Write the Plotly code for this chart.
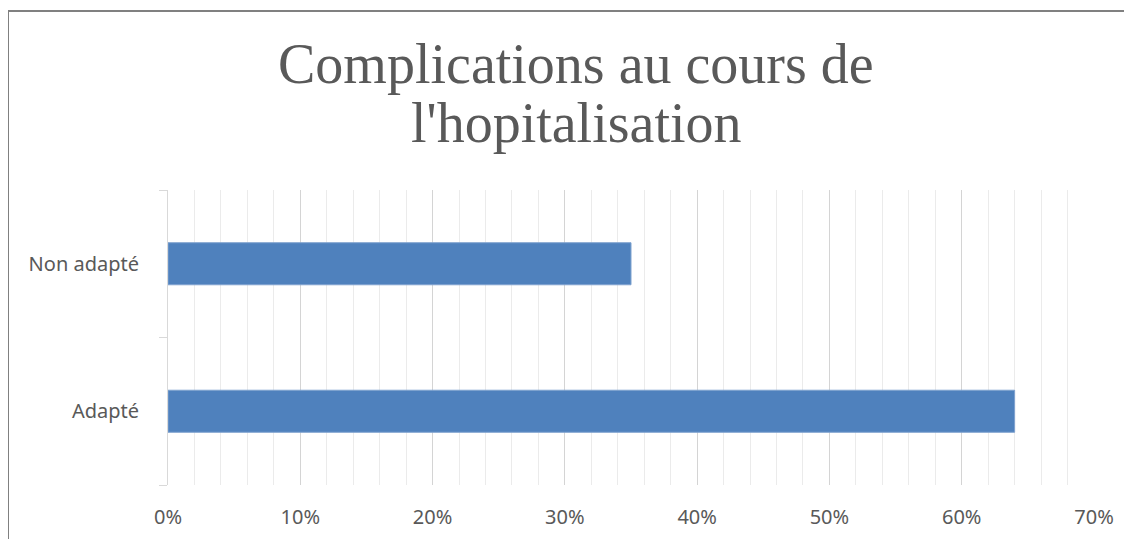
import plotly.graph_objects as go

categories = ["Adapté", "Non adapté"]
values = [0.64, 0.35]
tick_vals = [0, 0.1, 0.2, 0.3, 0.4, 0.5, 0.6, 0.7]
tick_text = ["0%", "10%", "20%", "30%", "40%", "50%", "60%", "70%"]
title_lines = ["Complications au cours de", "l'hopitalisation"]

# page has an 8px body offset; work in figure coordinates
OFF = 8
W, H = 1132, 539
L, T = 168 - OFF, 190 - OFF
R = W - (1094 - OFF)
B = H - (485 - OFF)
pw, ph = W - L - R, H - T - B

def px_x(x):
    return (x - OFF - L) / pw

def px_y(y):
    return (H - B - (y - OFF)) / ph

fig = go.Figure(go.Bar(
    y=categories, x=values, orientation="h", width=0.285,
    marker=dict(color="#4F81BD", line=dict(color="#7FA2CF", width=1)),
    hoverinfo="skip",
))

fig.update_layout(
    width=W, height=H,
    margin=dict(l=L, r=R, t=T, b=B),
    paper_bgcolor="white", plot_bgcolor="white",
    showlegend=False,
    font=dict(family="Noto Sans", size=20, color="#595959"),
)

fig.update_xaxes(
    range=[0, 0.7], tickvals=tick_vals, ticktext=tick_text,
    showgrid=True, gridcolor="#D4D4D4", gridwidth=1.3,
    minor=dict(dtick=0.02, tick0=0, showgrid=True, gridcolor="#EBEBEB", gridwidth=1),
    zeroline=False, showline=False, ticks="",
    ticklabelstandoff=18,
    tickfont=dict(family="Noto Sans", size=20, color="#595959"),
)
fig.update_yaxes(
    range=[-0.5, 1.5], showgrid=False, zeroline=False,
    showline=True, linecolor="#D9D9D9", linewidth=1,
    ticks="outside", ticklen=8, tickcolor="#D9D9D9", tickson="boundaries",
    ticklabelstandoff=24,
    tickfont=dict(family="Noto Sans", size=20, color="#595959"),
)

fig.add_annotation(text=title_lines[0], xref="paper", yref="paper",
                   x=px_x(576), y=px_y(64), xanchor="center", yanchor="middle",
                   showarrow=False,
                   font=dict(family="Liberation Serif", size=56, color="#595959"))
fig.add_annotation(text=title_lines[1], xref="paper", yref="paper",
                   x=px_x(576), y=px_y(123), xanchor="center", yanchor="middle",
                   showarrow=False,
                   font=dict(family="Liberation Serif", size=56, color="#595959"))

# chart border (top and left visible)
fig.add_shape(type="line", xref="paper", yref="paper",
              x0=px_x(8), x1=px_x(1150), y0=px_y(11), y1=px_y(11),
              line=dict(color="#808080", width=2))
fig.add_shape(type="line", xref="paper", yref="paper",
              x0=px_x(8), x1=px_x(8), y0=px_y(11), y1=px_y(560),
              line=dict(color="#808080", width=2))

fig.write_html("out.html")
